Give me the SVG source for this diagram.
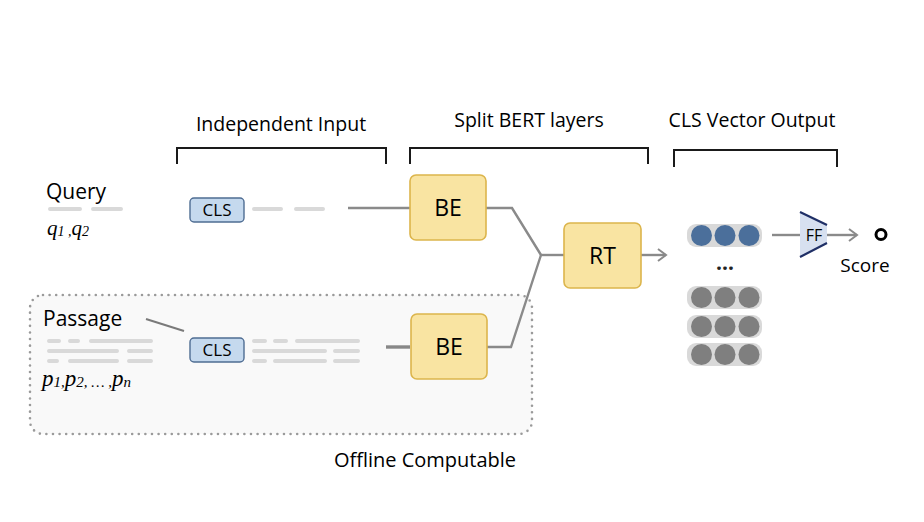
<svg xmlns="http://www.w3.org/2000/svg" width="924" height="522" viewBox="0 0 924 522">
<defs>
<style>
.lbl{font-family:"Open Sans","Liberation Sans",sans-serif;fill:#000}
.hdr{font-size:19.5px;text-anchor:middle}
.math{font-family:"Liberation Serif","Times New Roman",serif;font-style:italic;fill:#000}
.bracket{fill:none;stroke:#1a1a1a;stroke-width:2}
.be{fill:#f9e4a2;stroke:#dcb54c;stroke-width:1.6}
.cls{fill:#c5d9ee;stroke:#4f6d93;stroke-width:1.4}
.tok{stroke:#d9d9d9;stroke-width:4;stroke-linecap:round;fill:none}
.conn{stroke:#8a8a8a;stroke-width:2.4;fill:none}
.pill{fill:#d9d9d9}
.cb{fill:#4b6f9b}
.cg{fill:#7f7f7f}
</style>
<marker id="chev" markerWidth="12" markerHeight="14" refX="10" refY="7" orient="auto" markerUnits="userSpaceOnUse">
<path d="M2,1 L10,7 L2,13" fill="none" stroke="#8a8a8a" stroke-width="2"/>
</marker>
</defs>
<rect width="924" height="522" fill="#fff"/>

<g id="offline-box">
<rect x="30" y="295" width="502" height="139" rx="13" fill="#f9f9f9" stroke="#9a9a9a" stroke-width="2.6" stroke-dasharray="0 6.6" stroke-linecap="round"/>
<text class="lbl" x="425" y="467" font-size="20" text-anchor="middle">Offline Computable</text>
</g>

<g id="headers">
<text class="lbl hdr" x="281" y="131">Independent Input</text>
<path class="bracket" d="M177,164 V148 H386 V164"/>
<text class="lbl hdr" x="529" y="127">Split BERT layers</text>
<path class="bracket" d="M410,164 V148 H648 V164"/>
<text class="lbl hdr" x="752" y="127">CLS Vector Output</text>
<path class="bracket" d="M674,167 V150 H837 V167"/>
</g>

<g id="connectors">
<path class="conn" d="M348,208 H410"/>
<path class="conn" d="M486,208 H512 L541,255"/>
<path d="M386,347 H410" stroke="#888" stroke-width="3.4" fill="none"/>
<path class="conn" d="M487,347 H511 L541,255"/>
<path class="conn" d="M541,255 H564"/>
<path class="conn" d="M641,255 H666" marker-end="url(#chev)"/>
<path d="M146,319 L184,331" stroke="#7a7a7a" stroke-width="2" fill="none"/>
<path class="conn" d="M772,235 H800"/>
<path class="conn" d="M827,235 H857" marker-end="url(#chev)"/>
</g>

<g id="query">
<text class="lbl" x="46" y="199" font-size="21">Query</text>
<path class="tok" d="M50,209 H80 M93,209 H121"/>
<text class="math" x="47" y="235" font-size="21">q<tspan font-size="14" dy="1">1 ,</tspan><tspan dy="-1">q</tspan><tspan font-size="14" dy="1">2</tspan></text>
</g>

<g id="query-tokens">
<rect class="cls" x="190" y="198" width="54" height="24" rx="4"/>
<text class="lbl" x="217" y="216" font-size="17" text-anchor="middle">CLS</text>
<path class="tok" d="M254,209 H281 M296,209 H323"/>
</g>

<g id="passage">
<text class="lbl" x="43" y="326" font-size="21">Passage</text>
<path class="tok" stroke-width="3.6" d="M49,341 H59 M70,341 H78 M91,341 H151 M49,351 H117 M129,351 H151 M49,361 H57 M70,361 H117 M129,361 H151"/>
<text class="math" x="42" y="386" font-size="23">p<tspan font-size="15" dy="1">1,</tspan><tspan dy="-1">p</tspan><tspan font-size="15" dy="1">2, … ,</tspan><tspan dy="-1">p</tspan><tspan font-size="15" dy="1">n</tspan></text>
</g>

<g id="passage-tokens">
<rect class="cls" x="190" y="338" width="54" height="24" rx="4"/>
<text class="lbl" x="217" y="356" font-size="17" text-anchor="middle">CLS</text>
<path class="tok" stroke-width="3.6" d="M254,341 H265 M275,341 H286 M297,341 H358 M254,351 H325 M335,351 H358 M254,361 H265 M275,361 H325 M335,361 H358"/>
</g>

<g id="be-query">
<rect class="be" x="410" y="175" width="76" height="65" rx="6"/>
<text class="lbl" x="448" y="216" font-size="23" text-anchor="middle">BE</text>
</g>

<g id="be-passage">
<rect class="be" x="411" y="314" width="76" height="65" rx="6"/>
<text class="lbl" x="449" y="355" font-size="23" text-anchor="middle">BE</text>
</g>

<g id="rt">
<rect class="be" x="564" y="223" width="77" height="65" rx="6"/>
<text class="lbl" x="602.5" y="264" font-size="23" text-anchor="middle">RT</text>
</g>

<g id="cls-vectors">
<rect class="pill" x="687" y="224" width="75" height="23" rx="9"/>
<circle class="cb" cx="701.5" cy="235.5" r="10.5"/>
<circle class="cb" cx="725" cy="235.5" r="10.5"/>
<circle class="cb" cx="749" cy="235.5" r="10.5"/>
<text x="725" y="270" font-family="Open Sans, Liberation Sans, sans-serif" font-size="21" font-weight="bold" text-anchor="middle" fill="#222">…</text>
<rect class="pill" x="687" y="286" width="75" height="23" rx="9"/>
<circle class="cg" cx="701.5" cy="297.5" r="10.5"/>
<circle class="cg" cx="725" cy="297.5" r="10.5"/>
<circle class="cg" cx="749" cy="297.5" r="10.5"/>
<rect class="pill" x="687" y="315" width="75" height="23" rx="9"/>
<circle class="cg" cx="701.5" cy="326.5" r="10.5"/>
<circle class="cg" cx="725" cy="326.5" r="10.5"/>
<circle class="cg" cx="749" cy="326.5" r="10.5"/>
<rect class="pill" x="687" y="343" width="75" height="23" rx="9"/>
<circle class="cg" cx="701.5" cy="354.5" r="10.5"/>
<circle class="cg" cx="725" cy="354.5" r="10.5"/>
<circle class="cg" cx="749" cy="354.5" r="10.5"/>
</g>

<g id="ff">
<path d="M800,212 L827,225 L827,243 L800,257 Z" fill="#d7e0f0"/>
<path d="M800,212 L827,225 M800,257 L827,243" stroke="#1f2f66" stroke-width="2.2" fill="none"/>
<text class="lbl" x="814" y="241" font-size="16" text-anchor="middle">FF</text>
</g>

<g id="score">
<circle cx="881" cy="234.5" r="5" fill="#fff" stroke="#000" stroke-width="3"/>
<text class="lbl" x="865" y="272" font-size="19" text-anchor="middle">Score</text>
</g>
</svg>
